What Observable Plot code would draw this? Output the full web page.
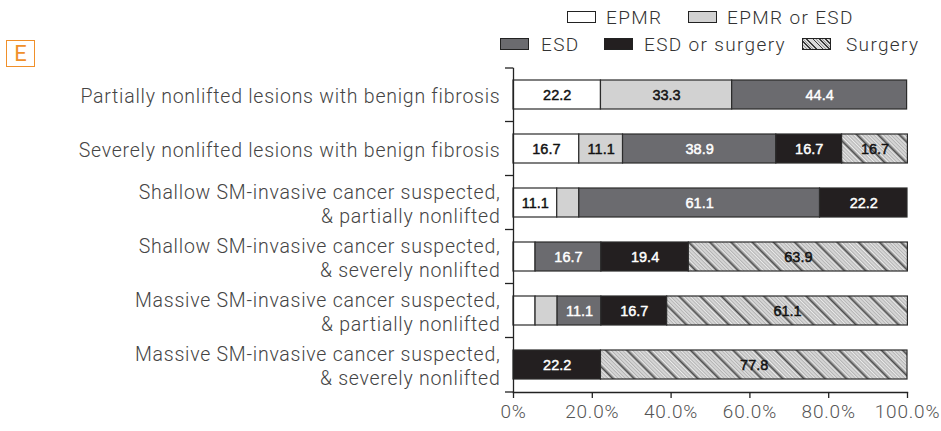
<!DOCTYPE html>
<html>
<head>
<meta charset="utf-8">
<script src="https://cdn.jsdelivr.net/npm/d3@7"></script>
<script src="https://cdn.jsdelivr.net/npm/@observablehq/plot@0.6"></script>
<style>
  html, body { margin: 0; padding: 0; background: #fff; }
  #wrap { position: relative; width: 941px; height: 431px; overflow: hidden; }
  #wrap svg { position: absolute; left: 0; top: 0; }
  .lab { position: absolute; font-family: Roboto, "Liberation Sans", sans-serif; font-weight: 300; font-size: 19px; letter-spacing: 1.35px; color: #333; line-height: 1; white-space: nowrap; }
  .sw { position: absolute; width: 27px; height: 10px; border: 1.6px solid #222; }
  #ebox { position: absolute; left: 6px; top: 40px; width: 27px; height: 25px; border: 1.5px solid #f0902a; color: #f0902a;
          font-family: Roboto, "Liberation Sans", sans-serif; font-size: 22px; line-height: 25px; text-align: center; }
</style>
</head>
<body>
<div id="wrap"></div>
<script>
// ---- data ----
const categories = [
  "Partially nonlifted lesions with benign fibrosis",
  "Severely nonlifted lesions with benign fibrosis",
  "Shallow SM-invasive cancer suspected,\n& partially nonlifted",
  "Shallow SM-invasive cancer suspected,\n& severely nonlifted",
  "Massive SM-invasive cancer suspected,\n& partially nonlifted",
  "Massive SM-invasive cancer suspected,\n& severely nonlifted"
];
const seriesNames = ["EPMR", "EPMR or ESD", "ESD", "ESD or surgery", "Surgery"];
// bar lengths (%) per series, one value per category
const epmr        = [22.2, 16.7, 11.1, 5.6, 5.6, 0];
const epmrOrEsd   = [33.3, 11.1, 5.6, 0, 5.6, 0];
const esd         = [44.4, 38.9, 61.1, 16.7, 11.1, 0];
const esdOrSurg   = [0, 16.7, 22.2, 22.2, 16.7, 22.2];
const surgery     = [0, 16.7, 0, 55.6, 61.1, 77.8];
// printed labels per series ("" = no label)
const epmrLab      = ["22.2", "16.7", "11.1", "", "", ""];
const epmrOrEsdLab = ["33.3", "11.1", "", "", "", ""];
const esdLab       = ["44.4", "38.9", "61.1", "16.7", "11.1", ""];
const esdOrSurgLab = ["", "16.7", "22.2", "19.4", "16.7", "22.2"];
const surgeryLab   = ["", "16.7", "", "63.9", "61.1", "77.8"];
const xTicks = [0, 20, 40, 60, 80, 100];
const xTickLabels = ["0%", "20.0%", "40.0%", "60.0%", "80.0%", "100.0%"];

const seriesValues = [epmr, epmrOrEsd, esd, esdOrSurg, surgery];
const seriesLabels = [epmrLab, epmrOrEsdLab, esdLab, esdOrSurgLab, surgeryLab];
const seriesColors = ["#ffffff", "#d2d2d2", "#6b6b6f", "#231f20", "url(#hatch)"];
const textColors = ["#111", "#111", "#fff", "#fff", "#111"];

const table = [];
categories.forEach((c, i) => {
  seriesNames.forEach((s, j) => {
    const v = seriesValues[j][i];
    if (v > 0) table.push({cat: c, series: s, value: v, label: seriesLabels[j][i], tcol: textColors[j]});
  });
});

const FONT = "Roboto, 'Liberation Sans', sans-serif";

const plot = Plot.plot({
  width: 941,
  height: 431,
  marginLeft: 513,
  marginRight: 34,
  marginTop: 68,
  marginBottom: 39,
  style: {fontFamily: FONT, background: "transparent"},
  x: {domain: [0, 100]},
  y: {domain: categories, paddingInner: 0.455, paddingOuter: 0.22, axis: null},
  color: {domain: seriesNames, range: seriesColors},
  marks: [
    Plot.barX(table, Plot.stackX({x: "value", y: "cat", fill: "series", stroke: "#2b2b2b", strokeWidth: 1.2, inset: 0})),
    Plot.text(table, Plot.stackX({x: "value", y: "cat", z: "series", text: "label", fill: "tcol", stroke: "tcol", strokeWidth: 0.45,
      fontFamily: "'Liberation Sans', Arial, sans-serif", fontSize: 14.5})),
    Plot.text(categories, {x: 0, y: d => d, text: d => d, textAnchor: "end", dx: -13, lineHeight: 1.28,
      fontSize: 19.5, fontWeight: 300, fill: "#444"}),
    Plot.frame({anchor: "left", stroke: "#222", strokeWidth: 1.3}),
    Plot.frame({anchor: "bottom", stroke: "#222", strokeWidth: 1.3}),
    Plot.axisX({ticks: xTicks, tickFormat: d => xTickLabels[xTicks.indexOf(d)], tickSize: 6, tickPadding: 6,
      fontSize: 19, fontWeight: 300, color: "#555", label: null, stroke: "#222", strokeWidth: 1.3})
  ]
});

const wrap = document.getElementById("wrap");
wrap.appendChild(plot);

const svg = d3.select(plot);
// letter spacing for light labels (category labels = second text mark; x tick labels)
const textGroups = svg.selectAll('g[aria-label="text"]').nodes();
if (textGroups.length > 1) d3.select(textGroups[1]).style("letter-spacing", "0.75px");
svg.selectAll('g[aria-label="x-axis tick label"]').style("letter-spacing", "0.8px");

// hatch pattern
const defs = svg.insert("defs", ":first-child");
const pat = defs.append("pattern").attr("id", "hatch").attr("patternUnits", "userSpaceOnUse")
  .attr("width", 15).attr("height", 15).attr("patternTransform", "rotate(-45)");
pat.append("rect").attr("width", 15).attr("height", 15).attr("fill", "#d6d6d6");
for (let k = 1; k < 15; k += 2.5) {
  pat.append("line").attr("x1", k).attr("x2", k).attr("y1", 0).attr("y2", 15).attr("stroke", "#f2f2f2").attr("stroke-width", 0.8);
}
for (let k = 2.2; k < 15; k += 2.5) {
  pat.append("line").attr("x1", k).attr("x2", k).attr("y1", 0).attr("y2", 15).attr("stroke", "#8a8a8a").attr("stroke-width", 0.6);
}
pat.append("line").attr("x1", 0.8).attr("x2", 0.8).attr("y1", 0).attr("y2", 15).attr("stroke", "#3a3a3a").attr("stroke-width", 1.4);

// y-axis ticks at band boundaries
const ys = plot.scale("y");
const xs = plot.scale("x");
const bw = ys.bandwidth;
const bounds = [ys.range[0]];
for (let i = 1; i < categories.length; i++) {
  bounds.push((ys.apply(categories[i - 1]) + bw + ys.apply(categories[i])) / 2);
}
bounds.push(ys.range[1]);
const x0 = xs.apply(0);
svg.append("g").selectAll("line").data(bounds).join("line")
  .attr("x1", x0 - 8).attr("x2", x0).attr("y1", d => d).attr("y2", d => d)
  .attr("stroke", "#222").attr("stroke-width", 1.3);

// legend + panel letter
function addSwatch(x, y, fill) {
  const d = document.createElement("div");
  d.className = "sw"; d.style.left = x + "px"; d.style.top = y + "px";
  if (fill === "url(#hatch)") {
    d.style.background = "repeating-linear-gradient(45deg, #3a3a3a 0 1.2px, #dadada 1.2px 2.4px, #9a9a9a 2.4px 3px, #dadada 3px 4.5px)";
  } else d.style.background = fill;
  wrap.appendChild(d);
}
function addLabel(x, y, t) {
  const d = document.createElement("div");
  d.className = "lab"; d.style.left = x + "px"; d.style.top = y + "px"; d.textContent = t;
  wrap.appendChild(d);
}
const legendPos = [
  {sx: 567, sy: 11, tx: 606, ty: 8},
  {sx: 688, sy: 11, tx: 727, ty: 8},
  {sx: 500, sy: 38, tx: 541, ty: 35},
  {sx: 604, sy: 38, tx: 644, ty: 35},
  {sx: 802, sy: 38, tx: 846, ty: 35}
];
seriesNames.forEach((s, j) => {
  addSwatch(legendPos[j].sx, legendPos[j].sy, seriesColors[j]);
  addLabel(legendPos[j].tx, legendPos[j].ty, s);
});
const e = document.createElement("div");
e.id = "ebox"; e.textContent = "E";
wrap.appendChild(e);
</script>
</body>
</html>
